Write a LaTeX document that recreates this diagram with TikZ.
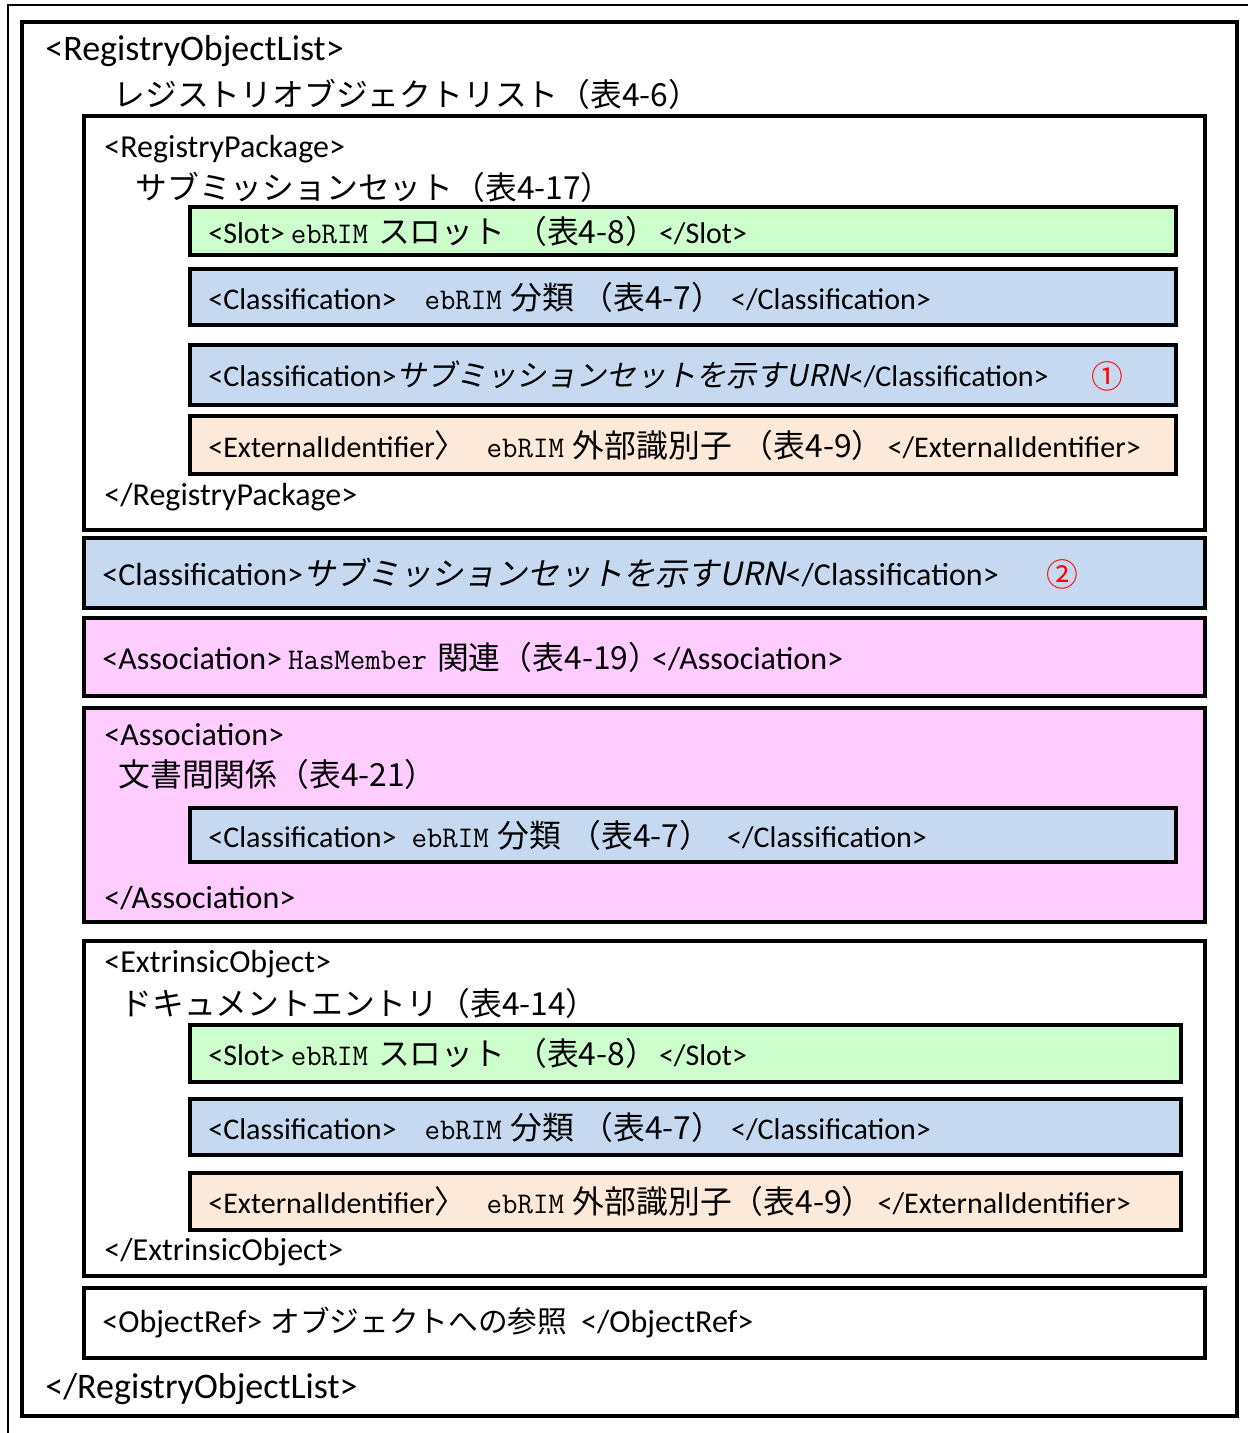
\documentclass[tikz,border=0pt]{standalone}
\usepackage{fontspec}
\setmainfont{Carlito}
\newfontfamily\jpfont[Scale=1.06]{Noto Sans CJK JP}
\newfontfamily\jpslant[FakeSlant=0.2]{Noto Sans CJK JP}
\usetikzlibrary{positioning,fit}
\definecolor{slotgreen}{HTML}{CCFFCC}
\definecolor{clsblue}{HTML}{C6D9F1}
\definecolor{extpeach}{HTML}{FDE9D9}
\definecolor{assocpink}{HTML}{FFCCFF}
\definecolor{markred}{HTML}{FF0000}
\tikzset{
  frame/.style     = {rectangle, draw=black, line width=2pt, inner sep=0pt,
                      fill=white},
  slotbox/.style   = {frame, fill=slotgreen},
  clsbox/.style    = {frame, fill=clsblue},
  extbox/.style    = {frame, fill=extpeach},
  assocbox/.style  = {frame, fill=assocpink},
  tag/.style       = {anchor=west, inner sep=0pt,
                      font=\fontsize{15}{18}\selectfont},
  midtag/.style    = {tag, font=\fontsize{16}{19}\selectfont},
  bigtag/.style    = {tag, font=\fontsize{18}{21}\selectfont},
  jp/.style        = {anchor=west, inner sep=0pt,
                      font=\jpfont\fontsize{15}{18}\selectfont},
  circlemark/.style = {inner sep=0pt, text=markred,
                      font=\jpfont\fontsize{15}{18}\selectfont},
}

\begin{document}
\begin{tikzpicture}[x=0.5pt, y=-0.5pt]
\useasboundingbox (0,0) rectangle (1252,1433);

%% -- outer frame ---------------------------------------------
\draw[line width=0.75pt] (8,1433) -- (8,5) -- (1248,5);
\node[frame, fit={(22,22) (1237,1416)}] (list) {};
\node[bigtag] (listopen) at (45,51) {<RegistryObjectList>};
\node[jp] (listname) at (113,94) {レジストリオブジェクトリスト（表4-6）};

%% -- submission set ------------------------------------------
\node[frame, fit={(84,116) (1205,530)}] (pkg) {};
\node[midtag] (pkgopen) at (104,149) {<RegistryPackage>};
\node[jp] (pkgname) at (135,187) {サブミッションセット（表4-17）};

\node[slotbox, fit={(190,207) (1176,255)}] (slotA) {};
\node[tag, right=10pt of slotA.west]
  {<Slot>\hspace{3pt}{\ttfamily ebRIM}\hspace{5pt}{\jpfont スロット}\hspace{5pt}{\jpfont （表4-8）}\hspace{1pt}</Slot>};
\node[clsbox, fit={(190,269) (1176,325)}] (clsA) {};
\node[tag, right=10pt of clsA.west]
  {<Classification>\hspace{14pt}{\ttfamily ebRIM}\hspace{4.5pt}{\jpfont 分類}\hspace{3.5pt}{\jpfont （表4-7）}\hspace{4pt}</Classification>};
\node[clsbox, fit={(190,345) (1176,405)}] (urnA) {};
\node[tag, right=10pt of urnA.west]
  {<Classification>{\jpslant サブミッションセットを示すURN}</Classification>};
\node[circlemark] (markA) at (1107,376) {①};
\node[extbox, fit={(190,416) (1176,474)}] (extA) {};
\node[tag, right=10pt of extA.west]
  {<ExternalIdentifier{\jpfont 〉}\hspace{10pt}{\ttfamily ebRIM}\hspace{4.5pt}{\jpfont 外部識別子}\hspace{5pt}{\jpfont （表4-9）}\hspace{2pt}</ExternalIdentifier>};
\node[midtag] (pkgclose) at (104,497) {</RegistryPackage>};

%% -- classification of the set -------------------------------
\node[clsbox, fit={(84,538) (1205,608)}] (urnB) {};
\node[midtag, right=10pt of urnB.west]
  {<Classification>{\jpslant サブミッションセットを示すURN}</Classification>};
\node[circlemark] (markB) at (1062,574) {②};

%% -- associations --------------------------------------------
\node[assocbox, fit={(84,618) (1205,696)}] (member) {};
\node[midtag, right=10pt of member.west]
  {<Association>\hspace{3pt}{\ttfamily\fontsize{15}{18}\selectfont HasMember}\hspace{5pt}{\jpfont\fontsize{15}{18}\selectfont 関連（表4-19）}\hspace{-4pt}</Association>};

\node[assocbox, fit={(84,708) (1205,922)}] (assoc) {};
\node[midtag] (assocopen) at (104,735) {<Association>};
\node[jp] (assocname) at (118,774) {文書間関係（表4-21）};
\node[clsbox, fit={(190,808) (1176,862)}] (clsB) {};
\node[tag, right=10pt of clsB.west]
  {<Classification>\hspace{7.5pt}{\ttfamily ebRIM}\hspace{4.5pt}{\jpfont 分類}\hspace{4pt}{\jpfont （表4-7）}\hspace{8pt}</Classification>};
\node[midtag] (assocclose) at (104,898) {</Association>};

%% -- document entry ------------------------------------------
\node[frame, fit={(84,941) (1205,1276)}] (extr) {};
\node[midtag] (extropen) at (104,964) {<ExtrinsicObject>};
\node[jp] (extrname) at (120,1003) {ドキュメントエントリ（表4-14）};
\node[slotbox, fit={(190,1025) (1181,1082)}] (slotB) {};
\node[tag, right=10pt of slotB.west]
  {<Slot>\hspace{3pt}{\ttfamily ebRIM}\hspace{5pt}{\jpfont スロット}\hspace{5pt}{\jpfont （表4-8）}\hspace{1pt}</Slot>};
\node[clsbox, fit={(190,1099) (1181,1155)}] (clsC) {};
\node[tag, right=10pt of clsC.west]
  {<Classification>\hspace{14pt}{\ttfamily ebRIM}\hspace{4.5pt}{\jpfont 分類}\hspace{3.5pt}{\jpfont （表4-7）}\hspace{4pt}</Classification>};
\node[extbox, fit={(190,1173) (1181,1230)}] (extB) {};
\node[tag, right=10pt of extB.west]
  {<ExternalIdentifier{\jpfont 〉}\hspace{10pt}{\ttfamily ebRIM}\hspace{4.5pt}{\jpfont 外部識別子（表4-9）}\hspace{2pt}</ExternalIdentifier>};
\node[midtag] (extrclose) at (104,1252) {</ExtrinsicObject>};

%% -- object reference ----------------------------------------
\node[frame, fit={(84,1288) (1205,1358)}] (ref) {};
\node[midtag, right=10pt of ref.west]
  {<ObjectRef>\hspace{4pt}{\jpfont\fontsize{14}{16}\selectfont オブジェクトへの参照}\hspace{7pt}</ObjectRef>};

\node[bigtag] (listclose) at (45,1389) {</RegistryObjectList>};

\end{tikzpicture}
\end{document}
